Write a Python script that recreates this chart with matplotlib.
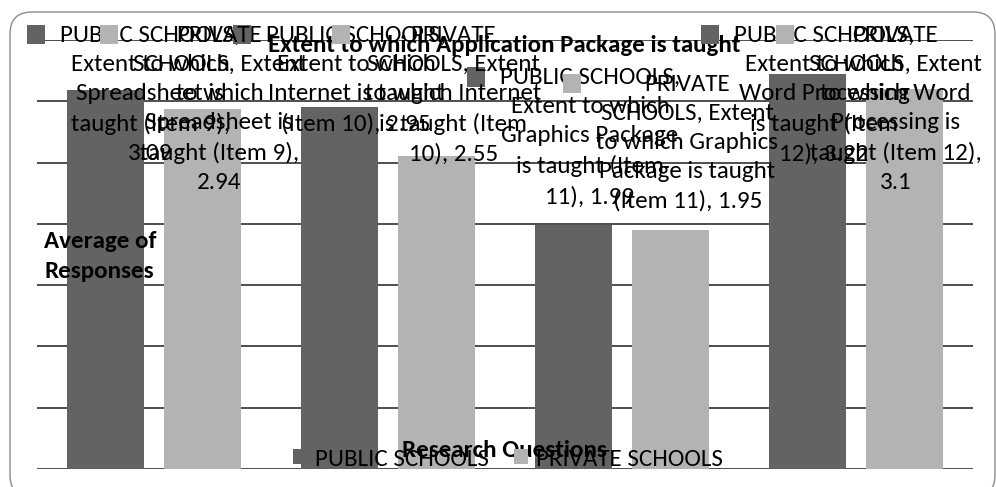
import matplotlib
matplotlib.use("Agg")
import matplotlib.pyplot as plt
from matplotlib import font_manager as fm
from matplotlib.patches import Rectangle, FancyBboxPatch
from matplotlib.transforms import IdentityTransform
from matplotlib.offsetbox import TextArea, DrawingArea, HPacker, AnnotationBbox
import numpy as np

# ---------------- data ----------------
categories = [
    "Extent to which Spreadsheet is taught (Item 9)",
    "Extent to which Internet is taught (Item 10)",
    "Extent to which Graphics Package is taught (Item 11)",
    "Extent to which Word Processing is taught (Item 12)",
]
series_names = ["PUBLIC SCHOOLS", "PRIVATE SCHOOLS"]
public_values = [3.09, 2.95, 1.99, 3.22]
private_values = [2.94, 2.55, 1.95, 3.10]
y_ticks = [0, 0.5, 1.0, 1.5, 2.0, 2.5, 3.0, 3.5]
title_text = "Extent to which Application Package is taught"
y_title = "Average of\nResponses"
x_title = "Research Questions"

colors = ["#636363", "#b3b3b3"]

# ---------------- font ----------------
available = set(f.name for f in fm.fontManager.ttflist)
FONT = "DejaVu Sans"
for cand in ["Carlito", "Calibri", "Lato"]:
    if cand in available:
        FONT = cand
        break
plt.rcParams["font.family"] = [FONT, "DejaVu Sans"]

W, H, DPI = 996, 487, 100
fig = plt.figure(figsize=(W / DPI, H / DPI), dpi=DPI)
ax = fig.add_axes([37 / W, 18 / H, 936 / W, 429 / H])

x = np.arange(len(categories))
bw = 0.33
off = 0.208
b1 = ax.bar(x - off, public_values, bw, color=colors[0], zorder=2, label=series_names[0])
b2 = ax.bar(x + off, private_values, bw, color=colors[1], zorder=2, label=series_names[1])

ax.set_xlim(-0.5, len(categories) - 0.5)
ax.set_ylim(y_ticks[0], y_ticks[-1])
ax.set_yticks(y_ticks)
ax.yaxis.grid(True, color="#1e1e1e", linewidth=1.1, zorder=0)
ax.set_axisbelow(True)
ax.tick_params(left=False, bottom=False, labelleft=False, labelbottom=False)
for s in ax.spines.values():
    s.set_visible(False)

# chart-area border
fig.patches.append(FancyBboxPatch((10, -10), 985, 487 - 12 + 10,
                                  boxstyle="round,pad=0,rounding_size=22",
                                  transform=IdentityTransform(), fc="none",
                                  ec="#8c8c8c", lw=1.0, figure=fig))

# titles
fig.text(504 / W, 1 - 46 / H, title_text, ha="center", va="center",
         fontsize=18, fontweight="bold")
fig.text(44 / W, 1 - 231 / H, y_title, ha="left", va="top",
         fontsize=18, fontweight="bold", linespacing=1.5)
fig.text(504 / W, 1 - 450 / H, x_title, ha="center", va="center",
         fontsize=18, fontweight="bold")

fig.legend(handles=[b1, b2], labels=series_names, loc="center",
           bbox_to_anchor=(508 / W, 1 - 459 / H), ncol=2, frameon=False,
           fontsize=18, handlelength=0.55, handleheight=0.55,
           handletextpad=0.35, columnspacing=1.0, borderpad=0)

# data labels
renderer = fig.canvas.get_renderer()
LABEL_FS = 18
MAXW = 187          # px, wrap width of label text column

def text_w(s):
    t = fig.text(0, 0, s, fontsize=LABEL_FS)
    w = t.get_window_extent(renderer).width
    t.remove()
    return w

def wrap(s):
    lines, cur = [], ""
    for wd in s.split(" "):
        trial = wd if not cur else cur + " " + wd
        if cur and text_w(trial) > MAXW:
            lines.append(cur)
            cur = wd
        else:
            cur = trial
    lines.append(cur)
    return lines

TOP_LIMIT = H - 25
LEFT_LIMIT = 27
RIGHT_LIMIT = 982
GAP = 18
for si, (vals, bars) in enumerate([(public_values, b1), (private_values, b2)]):
    for ci, (v, bar) in enumerate(zip(vals, bars)):
        lab = f"{series_names[si]}, {categories[ci]}, {v:g}"
        lines = wrap(lab)
        key = DrawingArea(13, 22, 0, 0)
        key.add_artist(Rectangle((0, 8), 13, 14, fc=colors[si], ec="none"))
        txt = TextArea("\n".join(lines),
                       textprops=dict(fontsize=LABEL_FS, multialignment="center",
                                      linespacing=1.48))
        box = HPacker(children=[key, txt], align="top", pad=0, sep=11)
        box.set_figure(fig)
        bb = box.get_bbox(renderer)
        cx = bar.get_x() + bar.get_width() / 2
        px, py = ax.transData.transform((cx, v))
        left = min(max(px - bb.width / 2, LEFT_LIMIT), RIGHT_LIMIT - bb.width)
        top = min(py + GAP + bb.height, TOP_LIMIT)
        ab = AnnotationBbox(box, (left, top), xycoords="figure pixels",
                            box_alignment=(0, 1), frameon=False, pad=0,
                            annotation_clip=False, zorder=5)
        fig.add_artist(ab)

fig.savefig("out.png", dpi=DPI)
